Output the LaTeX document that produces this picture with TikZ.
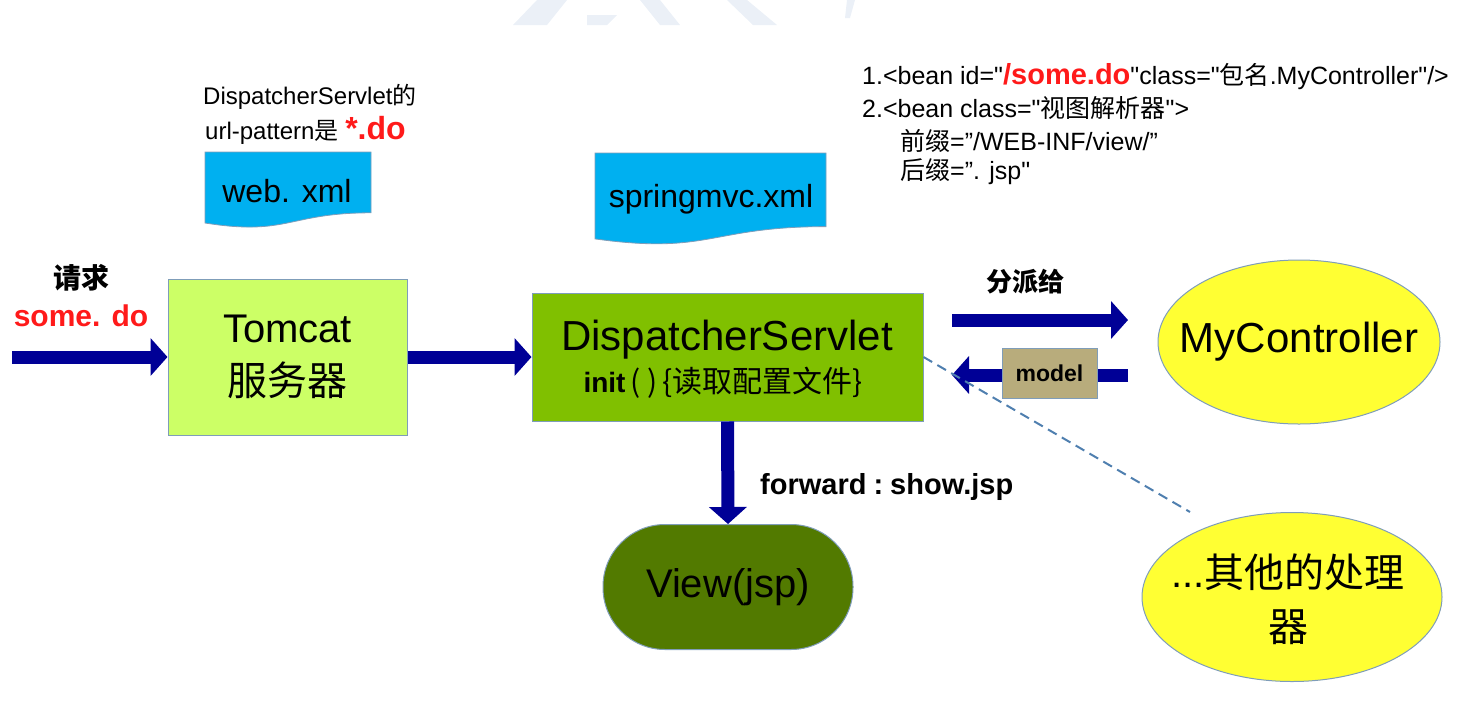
\documentclass[tikz,border=0pt]{standalone}
\usepackage{fontspec}
\setmainfont{Liberation Sans}[Ligatures=TeXOff]
\newfontfamily\cjk{Noto Sans CJK SC}
\usetikzlibrary{arrows.meta,shapes.geometric}
\definecolor{arrowblue}{HTML}{000096}
\definecolor{edgeblue}{HTML}{7F9DB9}
\definecolor{tomcatfill}{HTML}{CCFF66}
\definecolor{dsfill}{HTML}{80C000}
\definecolor{viewfill}{HTML}{527A00}
\definecolor{ctrlfill}{HTML}{FFFF33}
\definecolor{modelfill}{HTML}{B8AC7C}
\definecolor{docfill}{HTML}{00B0F0}
\definecolor{wm}{HTML}{EBF0F7}
\definecolor{dashblue}{HTML}{4F7FAF}
\definecolor{txtred}{HTML}{FF1A1A}
\newcommand{\fs}[1]{\fontsize{#1}{#1}\selectfont}
\begin{document}
\begin{tikzpicture}[x=1pt,y=-1pt,
  box/.style={draw=edgeblue,line width=1pt,inner sep=0pt},
  bigarrow/.style={draw=arrowblue,line width=13pt,-{Triangle[width=37pt,length=17pt]}},
  doc/.style={fill=docfill,draw=edgeblue,line width=0.8pt},
  wmark/.style={fill=wm},
  dashline/.style={draw=dashblue,line width=2pt,dash pattern=on 10pt off 6pt},
  lbl/.style={inner sep=0pt}]
\useasboundingbox (0,0) rectangle (1464,702);
% watermark
\fill[wmark] (513,25) -- (547,25) -- (567,0) -- (537,0) -- cycle;
\fill[wmark] (587,15) -- (617,15) -- (607,25) -- (587,25) -- cycle;
\fill[wmark] (640,0) -- (660,0) -- (680,25) -- (660,25) -- cycle;
\fill[wmark] (727,0) -- (747,0) -- (777,25) -- (753,25) -- cycle;
\fill[wmark] (847,0) -- (855,0) -- (850,18) -- (845,18) -- cycle;
% documents
\draw[doc] (205,152) -- (371,152) -- (371,212.8) .. controls (288,212.8) and (288,236.2) .. (205,223) -- cycle;
\node[lbl,font=\fs{32}] (webxml) at (287,191) {web. xml};
\draw[doc] (595,153) -- (826,153) -- (826,226.6) .. controls (710,226.6) and (710,254.9) .. (595,238.9) -- cycle;
\node[lbl,font=\fs{32}] (springxml) at (711,199) {springmvc.xml};
\node[lbl,anchor=west,font=\fs{24}] (urlp1) at (203,97) {DispatcherServlet{\cjk 的}};
\node[lbl,anchor=west,font=\fs{24}] (urlp2) at (205,130) {url-pattern{\cjk 是} {\color{txtred}\bfseries\fs{32}*.do}};
% config text
\node[lbl,anchor=west,font=\fs{25}] (bean1) at (862,77) {1.<bean id="{\color{txtred}\bfseries\fs{29}/some.do}"class="{\cjk 包名}.MyController"/>};
\node[lbl,anchor=west,font=\fs{25}] (bean2) at (862,108) {2.<bean class="{\cjk 视图解析器}">};
\node[lbl,anchor=west,font=\fs{25}] (bean3) at (900,141) {{\cjk 前缀}=”/WEB-INF/view/”};
\node[lbl,anchor=west,font=\fs{25}] (bean4) at (900,172) {{\cjk 后缀}=”. jsp"};
% request label
\node[lbl,font=\fs{28}\bfseries\cjk] (req) at (81,278) {请求};
\node[lbl,font=\fs{30}\bfseries,text=txtred] (somedo) at (81,316) {some. do};
% boxes
\node[box,fill=tomcatfill,minimum width=239pt,minimum height=156pt,align=center,font=\fontsize{40}{53}\selectfont] (tomcat) at (287.5,357) {Tomcat\\{\cjk 服务器}};
\node[box,fill=dsfill,minimum width=391pt,minimum height=128pt] (ds) at (727.5,357) {};
\node[lbl,font=\fs{42}] (dsname) at (727,340) {DispatcherServlet};
\node[lbl,font=\fs{28}] (dsinit) at (723,383) {{\bfseries init}\,{\cjk\fs{30}( )\,\{读取配置文件\}}};
\node[box,ellipse,fill=ctrlfill,minimum width=282pt,minimum height=164pt] (myc) at (1299,342) {};
\node[lbl,font=\fs{42}] (myclabel) at (myc.center) {MyController};
\node[box,ellipse,fill=ctrlfill,minimum width=300pt,minimum height=169pt] (other) at (1292,597) {};
\node[lbl,align=center,font=\fontsize{40}{54}\selectfont] (otherlabel) at (1288,599) {...{\cjk 其他的处理}\\{\cjk 器}};
\node[box,fill=viewfill,rounded corners=62pt,minimum width=250pt,minimum height=125pt,font=\fs{40}] (view) at (728,587) {View(jsp)};
% arrows
\coordinate (reqstart) at (12,357);
\draw[bigarrow] (reqstart) -- (tomcat.west);
\draw[bigarrow] (tomcat.east) -- (ds.west);
\coordinate (dispA) at (952,320);
\coordinate (dispB) at (1128,320);
\draw[bigarrow] (dispA) -- (dispB);
\coordinate (retA) at (1128,375);
\coordinate (retB) at (952,375);
\draw[bigarrow] (retA) -- (retB);
\draw[bigarrow] (ds.south) -- (view.north);
\node[box,fill=modelfill,minimum width=95pt,minimum height=50pt,font=\fs{23}\bfseries] (model) at (1049.5,373) {model};
\coordinate (dend) at (1190,512);
\draw[dashline] (ds.east) -- (dend);
\node[lbl,font=\fs{26}\bfseries\cjk] (dispatch) at (1025,282) {分派给};
\node[lbl,anchor=west,font=\fs{29}\bfseries] (fwd) at (760,487) {forward\hspace{7pt}:\hspace{7pt}show.jsp};
\end{tikzpicture}
\end{document}
